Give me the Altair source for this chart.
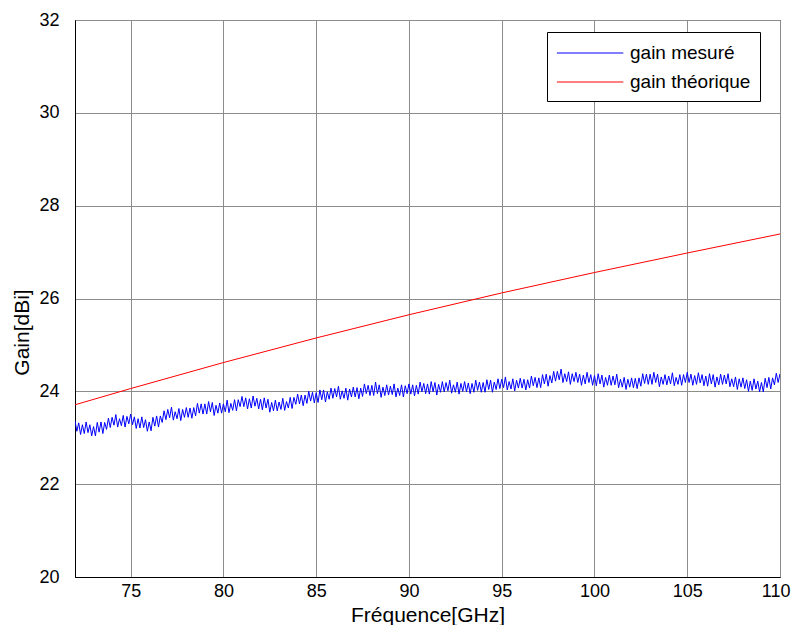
import altair as alt
import pandas as pd
import numpy as np

# Frequency grid of the measured series (GHz), 0.1 GHz step from 72 to 110
freq_start = 72.0
freq_step = 0.1

gain_mesure = [
    23.37, 23.14, 23.32, 23.07, 23.28, 23.09, 23.34, 23.11, 23.28, 23.04,  # 72
    23.24, 23.04, 23.33, 23.12, 23.34, 23.09, 23.33, 23.18, 23.42, 23.22,  # 73
    23.44, 23.27, 23.50, 23.23, 23.41, 23.26, 23.48, 23.23, 23.46, 23.30,  # 74
    23.51, 23.28, 23.45, 23.20, 23.41, 23.21, 23.45, 23.22, 23.39, 23.14,  # 75
    23.34, 23.15, 23.44, 23.25, 23.47, 23.23, 23.47, 23.33, 23.58, 23.39,  # 76
    23.61, 23.43, 23.66, 23.38, 23.56, 23.41, 23.63, 23.37, 23.61, 23.44,  # 77
    23.65, 23.44, 23.64, 23.42, 23.65, 23.47, 23.74, 23.53, 23.73, 23.51,  # 78
    23.73, 23.51, 23.78, 23.56, 23.76, 23.48, 23.70, 23.53, 23.75, 23.53,  # 79
    23.73, 23.56, 23.81, 23.54, 23.74, 23.59, 23.82, 23.58, 23.82, 23.67,  # 80
    23.89, 23.67, 23.86, 23.62, 23.84, 23.64, 23.90, 23.68, 23.85, 23.62,  # 81
    23.83, 23.60, 23.86, 23.64, 23.83, 23.55, 23.76, 23.58, 23.81, 23.58,  # 82
    23.77, 23.61, 23.85, 23.59, 23.78, 23.64, 23.87, 23.63, 23.87, 23.72,  # 83
    23.94, 23.73, 23.92, 23.69, 23.92, 23.74, 24.00, 23.79, 23.98, 23.75,  # 84
    23.97, 23.76, 24.03, 23.82, 24.03, 23.77, 23.99, 23.83, 24.07, 23.85,  # 85
    24.06, 23.88, 24.11, 23.83, 24.01, 23.85, 24.07, 23.81, 24.05, 23.88,  # 86
    24.09, 23.88, 24.08, 23.84, 24.07, 23.89, 24.16, 23.95, 24.13, 23.91,  # 87
    24.13, 23.91, 24.20, 23.95, 24.14, 23.87, 24.09, 23.91, 24.14, 23.92,  # 88
    24.11, 23.93, 24.16, 23.88, 24.07, 23.91, 24.14, 23.88, 24.12, 23.95,  # 89
    24.16, 23.94, 24.14, 23.90, 24.13, 23.94, 24.20, 23.99, 24.17, 23.95,  # 90
    24.16, 23.94, 24.21, 23.99, 24.19, 23.92, 24.15, 23.98, 24.21, 23.99,  # 91
    24.19, 24.01, 24.24, 23.96, 24.14, 23.98, 24.20, 23.94, 24.17, 24.00,  # 92
    24.21, 23.99, 24.18, 23.95, 24.17, 23.98, 24.24, 24.02, 24.20, 23.98,  # 93
    24.19, 23.98, 24.25, 24.04, 24.24, 23.98, 24.20, 24.04, 24.27, 24.06,  # 94
    24.26, 24.08, 24.31, 24.03, 24.21, 24.05, 24.27, 24.01, 24.24, 24.07,  # 95
    24.28, 24.07, 24.26, 24.03, 24.25, 24.07, 24.33, 24.12, 24.30, 24.08,  # 96
    24.29, 24.08, 24.36, 24.16, 24.37, 24.11, 24.34, 24.18, 24.43, 24.22,  # 97
    24.43, 24.25, 24.48, 24.19, 24.38, 24.21, 24.42, 24.15, 24.38, 24.21,  # 98
    24.41, 24.19, 24.37, 24.13, 24.35, 24.16, 24.41, 24.19, 24.36, 24.13,  # 99
    24.34, 24.12, 24.38, 24.16, 24.35, 24.09, 24.30, 24.13, 24.35, 24.13,  # 100
    24.33, 24.14, 24.37, 24.08, 24.26, 24.09, 24.30, 24.04, 24.26, 24.09,  # 101
    24.29, 24.08, 24.28, 24.06, 24.29, 24.11, 24.38, 24.17, 24.37, 24.15,  # 102
    24.37, 24.15, 24.41, 24.19, 24.37, 24.10, 24.31, 24.15, 24.36, 24.14,  # 103
    24.33, 24.16, 24.40, 24.12, 24.30, 24.15, 24.36, 24.13, 24.36, 24.19,  # 104
    24.41, 24.19, 24.37, 24.13, 24.34, 24.15, 24.40, 24.18, 24.36, 24.12,  # 105
    24.33, 24.11, 24.38, 24.16, 24.36, 24.09, 24.31, 24.14, 24.37, 24.15,  # 106
    24.35, 24.16, 24.38, 24.10, 24.27, 24.10, 24.31, 24.04, 24.27, 24.09,  # 107
    24.29, 24.06, 24.25, 24.00, 24.22, 24.02, 24.27, 24.05, 24.22, 23.99,  # 108
    24.19, 23.99, 24.28, 24.08, 24.30, 24.05, 24.29, 24.14, 24.39, 24.19,  # 109
    24.38,                                                                 # 110
]

# Theoretical gain (dBi) read at these frequencies
freq_theo = [72, 75, 80, 85, 90, 95, 100, 105, 110]
gain_theo = [23.71, 24.06, 24.62, 25.15, 25.65, 26.12, 26.56, 26.98, 27.39]

series_names = ["gain mesuré", "gain théorique"]
series_colors = ["#0000FF", "#FF0000"]
x_ticks = [75, 80, 85, 90, 95, 100, 105, 110]
y_ticks = [20, 22, 24, 26, 28, 30, 32]

freq_mes = np.round(freq_start + freq_step * np.arange(len(gain_mesure)), 2)
df = pd.concat([
    pd.DataFrame({"f": freq_mes, "g": gain_mesure, "s": series_names[0], "o": np.arange(len(gain_mesure))}),
    pd.DataFrame({"f": freq_theo, "g": gain_theo, "s": series_names[1], "o": np.arange(len(gain_theo))}),
])

FONT = "Liberation Sans"

chart = alt.Chart(df).mark_line(strokeWidth=1, clip=True).encode(
    x=alt.X("f:Q", scale=alt.Scale(domain=[72, 110], nice=False, zero=False),
            axis=alt.Axis(title="Fréquence[GHz]", values=x_ticks, titlePadding=4,
                          labelPadding=5, labelFlush=True, labelFlushOffset=10)),
    y=alt.Y("g:Q", scale=alt.Scale(domain=[20, 32], nice=False, zero=False),
            axis=alt.Axis(title="Gain[dBi]", values=y_ticks, titlePadding=6,
                          labelPadding=16, labelFlush=False, titleY=312)),
    color=alt.Color("s:N", scale=alt.Scale(domain=series_names, range=series_colors),
                    legend=alt.Legend(title=None, orient="none", legendX=472, legendY=12,
                                      fillColor="white", strokeColor="black", padding=9,
                                      symbolType="M-1,0H5", symbolSize=490, symbolStrokeWidth=1,
                                      labelFontSize=19, labelFont=FONT, labelColor="black",
                                      labelOffset=50, rowPadding=7)),
    detail="s:N",
    order="o:Q",
).properties(
    width=705, height=557,
    autosize=alt.AutoSizeParams(type="none"),
    padding={"left": 67, "top": 12, "right": 11, "bottom": 48},
).configure_view(
    stroke="black", strokeWidth=1
).configure_axis(
    labelFont=FONT, labelFontSize=18, labelColor="black",
    titleFont=FONT, titleFontSize=21, titleColor="black", titleFontWeight="normal",
    domainColor="black", tickSize=0, gridColor="#8c8c8c", gridWidth=1,
)

chart.save("out.html", embed_options={"renderer": "svg", "actions": False})
